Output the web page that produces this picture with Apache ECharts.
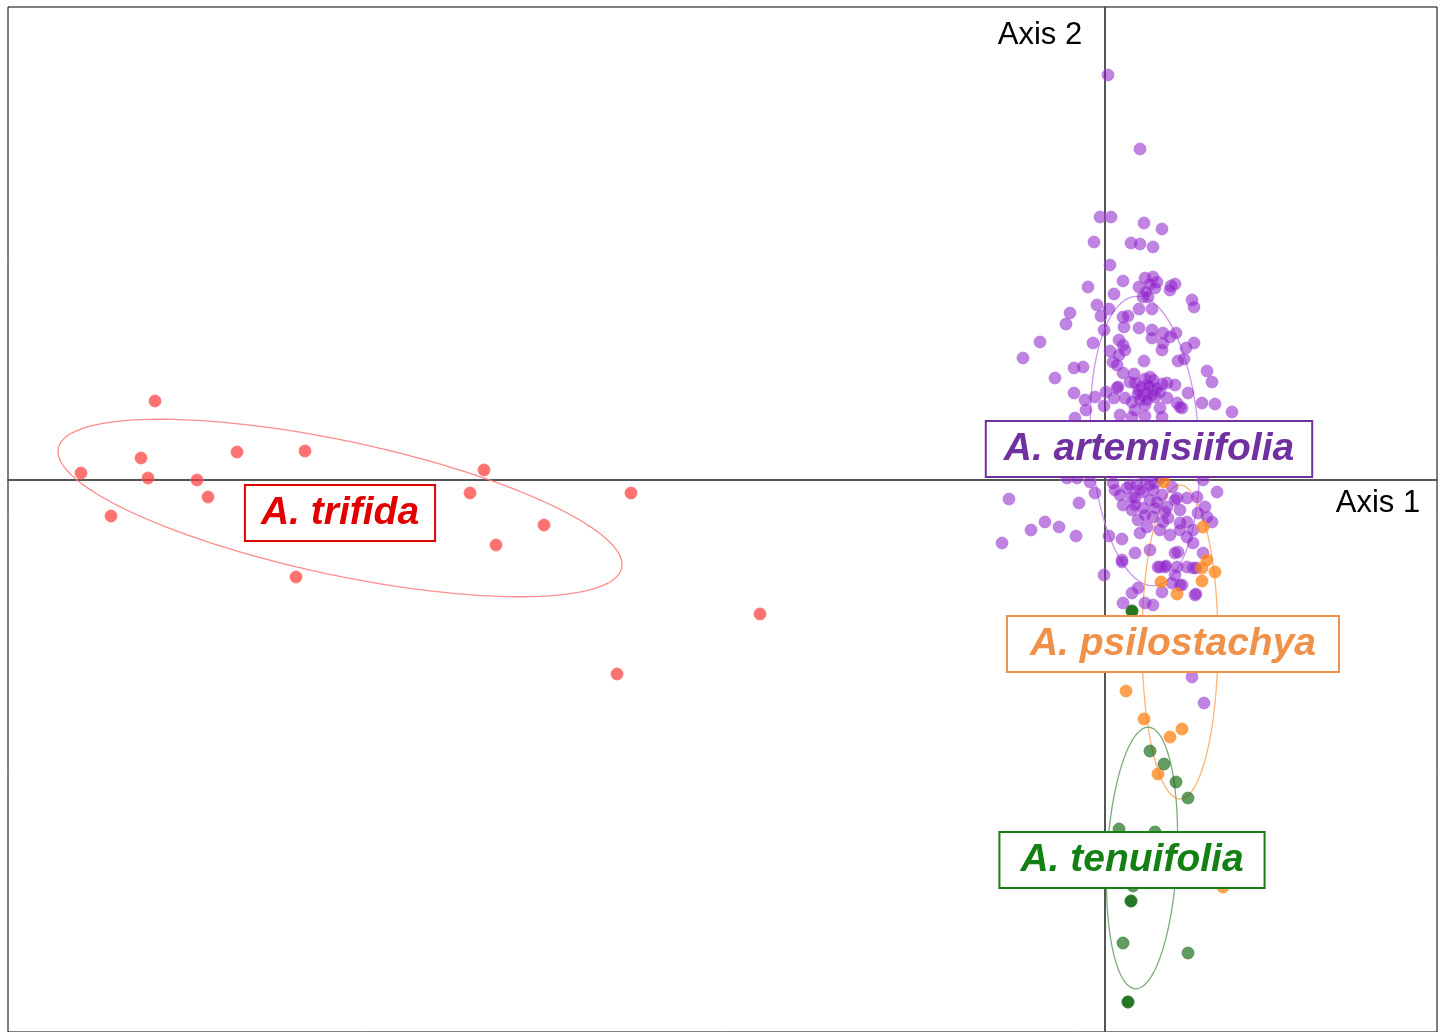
<!DOCTYPE html>
<html>
<head>
<meta charset="utf-8">
<script src="https://cdn.jsdelivr.net/npm/echarts@6/dist/echarts.min.js"></script>
<style>
html,body{margin:0;padding:0;background:#fff;}
#chart{width:1440px;height:1032px;}
</style>
</head>
<body>
<div id="chart"></div>
<script>
// Axis ranges (PCoA units)
var axis1Range = [-10.97, 3.32];
var axis2Range = [-5.52, 4.73];

// Species names
var speciesNames = ['A. trifida', 'A. artemisiifolia', 'A. psilostachya', 'A. tenuifolia'];

// Scores [Axis 1, Axis 2]
var trifida = [
  [-9.50,0.79],[-10.24,0.07],[-9.64,0.22],[-9.57,0.02],[-9.08,0.00],[-8.97,-0.17],
  [-8.68,0.28],[-8.00,0.29],[-9.94,-0.36],[-8.09,-0.97],[-6.21,0.10],[-6.35,-0.13],
  [-6.09,-0.65],[-5.61,-0.45],[-4.74,-0.13],[-3.45,-1.34],[-4.88,-1.94]
];

var artemisiifolia = [
  [0.03,4.05],[0.35,3.31],
  [-0.05,2.63],[0.06,2.63],[0.39,2.57],[0.57,2.51],[-0.11,2.38],[0.26,2.37],[0.35,2.36],[0.48,2.33],
  [0.05,2.15],[0.18,1.99],[0.40,2.02],[0.48,2.03],[0.52,1.98],[0.34,1.93],[0.66,1.94],[0.70,1.96],
  [0.65,1.90],[-0.17,1.93],[0.09,1.86],[0.38,1.83],[0.43,1.83],[0.87,1.80],[0.89,1.73],[-0.08,1.75],
  [0.04,1.71],[-0.04,1.64],[0.18,1.63],[0.23,1.64],[0.34,1.71],[0.47,1.71],[-0.35,1.67],[-0.39,1.56],
  [-0.01,1.50],[0.19,1.53],[0.34,1.52],[0.47,1.50],[0.47,1.42],[0.58,1.47],[0.65,1.43],[0.71,1.47],
  [0.58,1.37],[0.57,1.30],[0.81,1.32],[0.89,1.37],[-0.65,1.38],[-0.82,1.22],[-0.12,1.37],[0.05,1.29],
  [0.14,1.40],[0.18,1.35],[0.20,1.30],[0.14,1.25],[0.08,1.18],[0.12,1.15],[0.39,1.19],[0.73,1.19],
  [0.79,1.21],[1.02,1.09],[1.07,0.98],[-0.31,1.12],[-0.22,1.13],[-0.50,1.02],[0.18,1.07],[0.29,1.06],
  [0.25,0.98],[0.40,1.01],[0.45,1.03],[0.48,1.00],[0.43,0.96],[0.57,0.96],[0.62,0.97],[0.70,0.95],
  [0.83,0.87],[-0.31,0.87],[0.01,0.88],[0.12,0.92],[0.34,0.90],[0.38,0.85],[0.48,0.90],[0.50,0.83],
  [0.62,0.82],[0.72,0.77],[0.77,0.72],[0.97,0.77],[1.10,0.76],[1.27,0.68],[-0.20,0.80],[-0.10,0.83],
  [-0.01,0.74],[0.09,0.82],[0.20,0.82],[0.27,0.78],[0.30,0.70],[0.40,0.75],[0.55,0.72],[-0.19,0.70],
  [-0.30,0.62],[0.15,0.65],[0.27,0.63],[0.40,0.64],[0.57,0.63],[0.13,0.93],[0.35,0.80],[0.42,0.87],
  [0.75,0.73],
  [0.30,0.97],[0.36,0.93],[0.44,0.94],[0.52,0.92],[0.47,0.85],[0.33,0.86],[0.55,0.88],[0.42,0.80],
  [0.45,1.96],[0.50,1.92],[0.41,1.88],
  [-0.15,0.40],[0.00,0.25],[0.15,0.50],[0.30,0.35],[0.45,0.50],[0.55,0.20],[0.70,0.40],[0.85,0.25],
  [0.35,0.12],[0.20,0.18],[0.95,0.50],[-0.35,0.15],
  [-0.38,0.02],[-0.28,0.02],[-0.15,-0.02],[-0.10,-0.13],[-0.96,-0.19],[-0.26,-0.23],[-0.60,-0.42],
  [-0.74,-0.50],[-0.46,-0.47],[-0.29,-0.56],[-1.03,-0.63],[0.04,-0.56],[0.17,-0.59],[0.30,-0.73],
  [0.45,-0.70],[0.17,-0.80],[-0.01,-0.95],[0.27,-1.13],[0.18,-1.23],[0.40,-1.23],[0.48,-1.25],
  [0.55,-0.87],[0.60,-0.87],[0.72,-0.87],[0.70,-0.95],[0.57,-1.12],[0.67,-1.03],[0.77,-1.05],
  [0.90,-1.15],[0.82,-0.87],[0.88,-0.88],[0.98,-0.73],[0.73,-0.72],[0.75,-0.43],[1.12,-0.12],[0.98,0.00],
  [0.08,-0.03],[0.10,-0.10],[0.22,-0.08],[0.32,-0.05],[0.38,-0.12],[0.48,-0.10],[0.57,-0.15],[0.67,-0.07],
  [0.72,-0.18],[0.82,-0.18],[0.92,-0.17],[1.00,-0.27],[1.02,-0.37],[1.07,-0.42],[0.18,-0.25],[0.27,-0.30],
  [0.38,-0.28],[0.48,-0.37],[0.42,-0.47],[0.33,-0.40],[0.55,-0.50],[0.62,-0.27],[0.75,-0.30],[0.82,-0.42],
  [0.88,-0.50],[0.82,-0.57],[0.70,-0.73],[0.88,-0.63],[0.75,-0.50],[0.93,-0.33],[0.27,-0.17],[0.45,-0.20],
  [0.63,-0.38],[0.35,-0.53],[0.50,-0.03],[0.40,0.00],[0.55,0.02],[0.30,-0.18],[0.15,-0.15],[0.60,-0.32],
  [0.25,-0.05],[0.35,-0.10],[0.45,-0.05],[0.52,-0.22],[0.40,-0.35],[0.58,-0.42],[0.70,-0.20],[0.65,-0.55],
  [0.30,-0.25],[0.50,-0.28],
  [0.17,-0.82],[0.53,-0.87],[0.61,-0.86],[0.91,-0.88],[0.33,-1.08],[0.75,-1.05],[0.91,-1.14],
  [0.87,-1.97],[0.99,-2.23]
];

var psilostachya = [
  [0.59,-0.02],[0.98,-0.47],[1.02,-0.80],[0.97,-0.88],[1.10,-0.92],[0.97,-1.01],[0.56,-1.02],
  [0.72,-1.14],[0.70,-1.65],[0.90,-1.80],[0.21,-2.11],[0.39,-2.39],[0.65,-2.57],[0.77,-2.49],
  [0.53,-2.94],[1.18,-4.07]
];

var tenuifolia = [
  [0.27,-1.31],[0.27,-1.31],[0.45,-2.71],[0.59,-2.84],[0.71,-3.02],[0.83,-3.18],[0.14,-3.49],
  [0.50,-3.52],[0.28,-4.06],[0.58,-4.02],[0.26,-4.21],[0.26,-4.21],[0.18,-4.63],[0.83,-4.73],
  [0.23,-5.22],[0.23,-5.22]
];

// Ellipse parameters: [centre Axis 1, centre Axis 2, semi-major, semi-minor, angle in degrees]
var ellipseTrifida = [-7.65, -0.28, 2.88, 0.67, -12];
var ellipseArtemisiifolia = [0.40, 0.39, 1.45, 0.54, 93.6];
var ellipsePsilostachya = [0.75, -1.62, 1.57, 0.38, 90];
var ellipseTenuifolia = [0.37, -3.78, 1.31, 0.35, 87.1];

// Label anchor positions (centres of label boxes)
var labelAnchors = [[-7.65, -0.33], [0.44, 0.31], [0.68, -1.64], [0.27, -3.80]];
var axisTitles = ['Axis 1', 'Axis 2'];
var axisTitleAnchors = [[2.73, -0.23], [-0.65, 4.45]];

// ---------- build options ----------
function ellipsePoints(p) {
  var pts = [], n = 120, t = p[4] * Math.PI / 180;
  for (var i = 0; i <= n; i++) {
    var a = 2 * Math.PI * i / n;
    var ex = p[2] * Math.cos(a), ey = p[3] * Math.sin(a);
    pts.push([p[0] + ex * Math.cos(t) - ey * Math.sin(t), p[1] + ex * Math.sin(t) + ey * Math.cos(t)]);
  }
  return pts;
}

var groups = [
  {data: trifida, ell: ellipseTrifida, fill: 'rgba(255,60,60,0.72)', border: 'rgba(255,110,110,0.8)', line: 'rgba(255,120,120,0.85)', text: '#e00000', pad: 15},
  {data: artemisiifolia, ell: ellipseArtemisiifolia, fill: 'rgba(140,30,200,0.55)', border: 'rgba(175,100,225,0.6)', line: 'rgba(195,140,235,0.9)', text: '#7030a0', pad: 17},
  {data: psilostachya, ell: ellipsePsilostachya, fill: 'rgba(255,125,10,0.72)', border: 'rgba(255,150,60,0.8)', line: 'rgba(255,175,110,0.95)', text: '#f0914a', pad: 22},
  {data: tenuifolia, ell: ellipseTenuifolia, fill: 'rgba(0,95,0,0.62)', border: 'rgba(60,130,60,0.7)', line: 'rgba(110,165,110,0.9)', text: '#148014', pad: 20}
];

var series = [];
groups.forEach(function (g, i) {
  series.push({
    type: 'line', data: ellipsePoints(g.ell), showSymbol: false, silent: true, z: 3,
    lineStyle: {color: g.line, width: 1.3}, animation: false
  });
});
groups.forEach(function (g, i) {
  series.push({
    type: 'scatter', name: speciesNames[i], data: g.data, symbol: 'circle', symbolSize: 12, z: 4,
    itemStyle: {color: g.fill, borderColor: g.border, borderWidth: 1, opacity: 1}, animation: false
  });
});
series.push({
  type: 'scatter', z: 20, symbolSize: 1, silent: true, animation: false,
  itemStyle: {color: 'rgba(0,0,0,0)', opacity: 1},
  data: labelAnchors.map(function (c, i) {
    var g = groups[i];
    return {
      value: c, name: speciesNames[i],
      label: {
        show: true, position: 'inside', formatter: '{b}', color: g.text, opacity: 1,
        fontFamily: 'Liberation Sans, Arial, sans-serif', fontSize: 39, fontWeight: 'bold', fontStyle: 'italic',
        lineHeight: 42, backgroundColor: '#fff', borderColor: g.text, borderWidth: 2,
        padding: [6, g.pad, 6, g.pad]
      }
    };
  })
});
series.push({
  type: 'scatter', z: 20, symbolSize: 1, silent: true, animation: false,
  itemStyle: {color: 'rgba(0,0,0,0)', opacity: 1},
  data: axisTitleAnchors.map(function (c, i) {
    return {
      value: c, name: axisTitles[i],
      label: {show: true, position: 'inside', formatter: '{b}', color: '#000', opacity: 1,
        fontFamily: 'Liberation Sans, Arial, sans-serif', fontSize: 31}
    };
  })
});

var axisCommon = {
  type: 'value', scale: false,
  axisLine: {show: true, onZero: true, lineStyle: {color: '#555', width: 2}},
  axisTick: {show: false}, axisLabel: {show: false}, splitLine: {show: false}
};

var chart = echarts.init(document.getElementById('chart'), null, {renderer: 'canvas'});
chart.setOption({
  backgroundColor: '#fff',
  animation: false,
  grid: {left: 8, right: 3, top: 7, bottom: 0, show: true, borderColor: '#000', borderWidth: 1, backgroundColor: 'transparent'},
  xAxis: Object.assign({}, axisCommon, {min: axis1Range[0], max: axis1Range[1]}),
  yAxis: Object.assign({}, axisCommon, {min: axis2Range[0], max: axis2Range[1]}),
  series: series
});
</script>
</body>
</html>
